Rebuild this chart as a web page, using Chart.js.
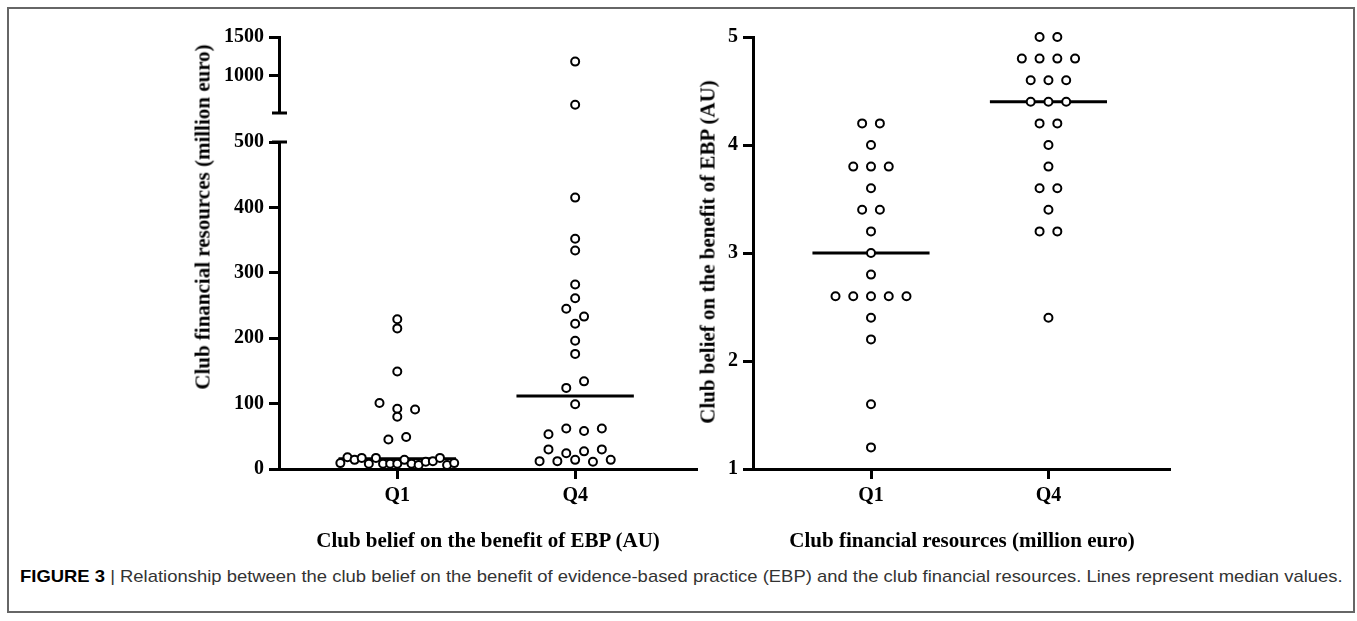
<!DOCTYPE html>
<html>
<head>
<meta charset="utf-8">
<script src="https://cdn.jsdelivr.net/npm/chart.js@4.4.1/dist/chart.umd.min.js"></script>
<style>
body { margin: 0; background: #fff; width: 1357px; height: 621px; position: relative; overflow: hidden; }
.frame { position: absolute; left: 7px; top: 7px; width: 1348px; height: 606px; border: 2px solid #666; box-sizing: border-box; }
.box { position: absolute; }
.title { position: absolute; font: bold 21px 'Liberation Serif', serif; color: #000; white-space: nowrap; transform: translate(-50%, -50%); }
.ytitle { transform: translate(-50%, -50%) rotate(-90deg); }
.caption { position: absolute; left: 20px; top: 567px; font: 17px 'Liberation Sans', Arial, sans-serif; color: #333; white-space: nowrap; transform-origin: 0 50%; }
.caption b { color: #000; }
</style>
</head>
<body>
<div class="frame"></div>

<div class="box" style="left:150px;top:20px;width:560px;height:110px"><canvas id="moneyTop"></canvas></div>
<div class="box" style="left:150px;top:125px;width:560px;height:405px"><canvas id="moneyLow"></canvas></div>
<div class="box" style="left:640px;top:20px;width:545px;height:510px"><canvas id="belief"></canvas></div>

<div class="title ytitle" style="left:203px;top:217px">Club financial resources (million euro)</div>
<div class="title" style="left:488px;top:540px">Club belief on the benefit of EBP (AU)</div>
<div class="title ytitle" style="left:708px;top:252px">Club belief on the benefit of EBP (AU)</div>
<div class="title" style="left:962px;top:540px">Club financial resources (million euro)</div>

<div class="caption" id="caption"><b>FIGURE 3</b> | Relationship between the club belief on the benefit of evidence-based practice (EBP) and the club financial resources. Lines represent median values.</div>

<script>
// groups on the x axis
const groups = ['Q1', 'Q4'];

// left panel: financial resources (million euro) per belief quartile
// (order inside a row = left to right as in the figure)
const q1Money = [229, 215, 149, 101, 92, 91, 80, 45, 49,
                 9, 18, 14, 17, 8, 17, 8, 8, 8, 14, 8, 6, 11, 12, 17, 6, 9];
const q4Money = [1180, 620, 415, 352, 334, 282, 261, 245, 233, 222, 196, 176, 124, 134, 99,
                 53, 62, 58, 62, 30, 24, 27, 30, 12, 12, 14, 11, 14];

// right panel: belief on the benefit of EBP (AU) per financial quartile
const q1Belief = [4.2, 4.2, 4.0, 3.8, 3.8, 3.8, 3.6, 3.4, 3.4, 3.2, 3.0, 2.8,
                  2.6, 2.6, 2.6, 2.6, 2.6, 2.4, 2.2, 1.6, 1.2];
const q4Belief = [5.0, 5.0, 4.8, 4.8, 4.8, 4.8, 4.6, 4.6, 4.6, 4.4, 4.4, 4.4,
                  4.2, 4.2, 4.0, 3.8, 3.6, 3.6, 3.4, 3.2, 3.2, 2.4];

// tick labels
const moneyUpperTicks = [1000, 1500];
const moneyLowerTicks = [0, 100, 200, 300, 400, 500];
const beliefTicks = [1, 2, 3, 4, 5];


Chart.defaults.font.family = "'Liberation Serif', serif";
Chart.defaults.font.weight = 'bold';
Chart.defaults.font.size = 20;
Chart.defaults.color = '#000';

// stretch the caption to the width of the figure
const cap = document.getElementById('caption');
cap.style.transform = 'scaleX(' + (1323 / cap.offsetWidth) + ')';

const median = function (arr) {
    const s = arr.slice().sort((a, b) => a - b);
    const m = Math.floor(s.length / 2);
    return s.length % 2 ? s[m] : (s[m - 1] + s[m]) / 2;
};

// prism-like dot plot: values close together share a row, rows are centred on the group
const swarm = function (values, center, tol, slot, halfMax) {
    const idx = values.map((v, i) => i).sort((a, b) => values[b] - values[a]);
    const rows = [];
    idx.forEach(i => {
        const row = rows[rows.length - 1];
        if (row && values[row[0]] - values[i] <= tol) row.push(i);
        else rows.push([i]);
    });
    const pts = [];
    rows.forEach(row => {
        row.sort((a, b) => a - b);
        const n = row.length;
        const step = n > 1 ? Math.min(slot, 2 * halfMax / (n - 1)) : 0;
        row.forEach((i, k) => pts.push({ x: center + (k - (n - 1) / 2) * step, y: values[i] }));
    });
    return pts;
};

const medianLine = (values, center) => {
    const m = median(values);
    return [{ x: center - 0.33, y: m }, { x: center + 0.33, y: m }];
};

const dots = (data) => ({
    type: 'scatter', data: data, pointRadius: 4, pointHoverRadius: 4,
    pointBackgroundColor: '#fff', pointBorderColor: '#000', pointBorderWidth: 2,
    showLine: false, clip: false, order: 0
});
const line = (data) => ({
    type: 'line', data: data, borderColor: '#000', borderWidth: 3,
    pointRadius: 0, fill: false, clip: false, order: 1
});

// break marks on the split axis
const breakMarks = {
    id: 'breakMarks',
    afterDraw(chart, args, opts) {
        if (!opts.edge) return;
        const { ctx, chartArea } = chart;
        const y = opts.edge === 'bottom' ? chartArea.bottom : chartArea.top;
        ctx.save();
        ctx.strokeStyle = '#000';
        ctx.lineWidth = 3;
        ctx.beginPath();
        ctx.moveTo(chartArea.left - 7, y);
        ctx.lineTo(chartArea.left + 8, y);
        ctx.stroke();
        ctx.restore();
    }
};

const xAxis = (show) => ({
    type: 'linear', min: 0.335, max: 2.685, display: show,
    afterBuildTicks: axis => { axis.ticks = groups.map((g, i) => ({ value: i + 1 })); },
    afterFit: scale => { scale.height = show ? 61 : 0; },
    border: { display: true, color: '#000', width: 3 },
    grid: { drawOnChartArea: false, drawTicks: true, tickLength: 10, tickWidth: 3, tickColor: '#000' },
    ticks: { padding: 5, autoSkip: false, maxRotation: 0, callback: (v, i) => groups[i] }
});

const yAxis = (min, max, tickValues, width) => ({
    type: 'linear', min: min, max: max,
    afterBuildTicks: axis => { axis.ticks = tickValues.map(v => ({ value: v })); },
    afterFit: scale => { scale.width = width; },
    border: { display: true, color: '#000', width: 3 },
    grid: { drawOnChartArea: false, drawTicks: true, tickLength: 10, tickWidth: 3, tickColor: '#000' },
    ticks: { padding: 5, autoSkip: false, callback: v => String(v) }
});

const baseOptions = (padding, x, y, edge) => ({
    responsive: true, maintainAspectRatio: false, animation: false, events: [],
    layout: { padding: padding },
    plugins: { legend: { display: false }, tooltip: { enabled: false }, breakMarks: { edge: edge } },
    scales: { x: x, y: y }
});


// LEFT PANEL (split y axis: two charts sharing the same x scale)
const q1MoneyPts = swarm(q1Money, 1, 12.5, 0.1, 0.32);
const q4MoneyPts = swarm(q4Money, 2, 12.5, 0.1, 0.32);

new Chart(document.getElementById('moneyTop'), {
    type: 'scatter',
    data: { datasets: [
        dots(q1MoneyPts.filter(p => p.y > 500)),
        dots(q4MoneyPts.filter(p => p.y > 500))
    ] },
    options: baseOptions({ top: 15, right: 13, bottom: 12, left: 0 },
        xAxis(false), yAxis(512, 1500, moneyUpperTicks, 129), 'bottom'),
    plugins: [breakMarks]
});

new Chart(document.getElementById('moneyLow'), {
    type: 'scatter',
    data: { datasets: [
        dots(q1MoneyPts.filter(p => p.y <= 500)),
        dots(q4MoneyPts.filter(p => p.y <= 500)),
        line(medianLine(q1Money, 1)),
        line(medianLine(q4Money, 2))
    ] },
    options: baseOptions({ top: 15, right: 13, bottom: 0, left: 0 },
        xAxis(true), yAxis(0, 500, moneyLowerTicks, 129), 'top'),
    plugins: [breakMarks]
});


// RIGHT PANEL
new Chart(document.getElementById('belief'), {
    type: 'scatter',
    data: { datasets: [
        dots(swarm(q1Belief, 1, 0.05, 0.1, 0.32)),
        dots(swarm(q4Belief, 2, 0.05, 0.1, 0.32)),
        line(medianLine(q1Belief, 1)),
        line(medianLine(q4Belief, 2))
    ] },
    options: baseOptions({ top: 15, right: 15, bottom: 0, left: 0 },
        xAxis(true), yAxis(1, 5, beliefTicks, 113), null)
});
</script>
</body>
</html>
